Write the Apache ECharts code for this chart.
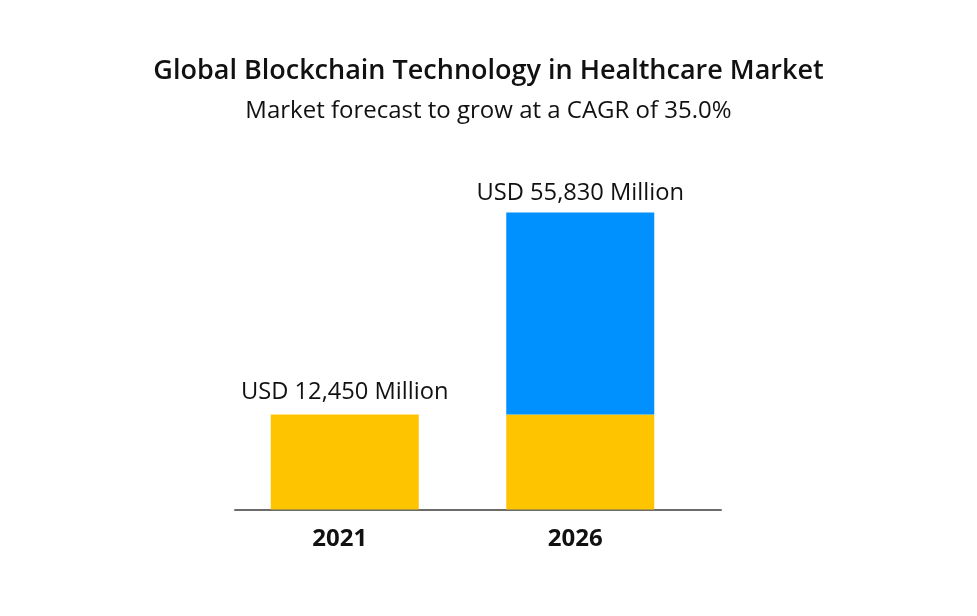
<!DOCTYPE html>
<html>
<head>
<meta charset="utf-8">
<script src="https://cdn.jsdelivr.net/npm/echarts@6/dist/echarts.min.js"></script>
<style>
html,body{margin:0;padding:0;background:#fff;}
#chart{width:977px;height:616px;}
</style>
</head>
<body>
<div id="chart"></div>
<script>
// Data
var years = ['2021', '2026'];
var baseValues = [12450, 12450];      // 2021 market size (base, repeated in 2026 stack)
var growthValues = ['-', 43380];      // growth 2021 -> 2026 (55,830 - 12,450)
var titleText = 'Global Blockchain Technology in Healthcare Market';
var subtitleText = 'Market forecast to grow at a CAGR of 35.0%';

function totalAt(i) {
  var g = growthValues[i] === '-' ? 0 : growthValues[i];
  return baseValues[i] + g;
}
function fmtLabel(i) {
  return 'USD ' + totalAt(i).toLocaleString('en-US') + ' Million';
}

var FONT = '"Open Sans"';
var chart = echarts.init(document.getElementById('chart'), null, {renderer: 'canvas'});
var option = {
  backgroundColor: '#ffffff',
  animation: false,
  title: {
    text: titleText,
    subtext: subtitleText,
    left: 'center',
    top: 53,
    itemGap: 14,
    textStyle: {fontFamily: FONT, fontSize: 27, fontWeight: 600, color: '#111111'},
    subtextStyle: {fontFamily: FONT, fontSize: 24, fontWeight: 'normal', color: '#111111'}
  },
  grid: [
    {left: 227, right: 279, top: 134, bottom: 106.5},
    {left: 235, right: 256, top: 134, bottom: 106.5}
  ],
  xAxis: [
    {
      type: 'category', gridIndex: 0, data: years,
      axisLine: {show: false}, axisTick: {show: false},
      axisLabel: {fontFamily: FONT, fontSize: 24, fontWeight: 'bold', color: '#111111', margin: 18, padding: [0, 10, 0, 0]}
    },
    {
      type: 'category', gridIndex: 1, data: years,
      axisLine: {show: true, lineStyle: {color: '#6b6b6b', width: 2}},
      axisTick: {show: false}, axisLabel: {show: false}
    }
  ],
  yAxis: [
    {type: 'log', gridIndex: 0, min: 6153, max: 100000, startValue: 6153, show: false, splitLine: {show: false}},
    {type: 'value', gridIndex: 1, show: false, splitLine: {show: false}}
  ],
  series: [
    {
      name: 'Base', type: 'bar', stack: 'total', xAxisIndex: 0, yAxisIndex: 0,
      data: baseValues, barWidth: 148, clip: true,
      itemStyle: {color: '#FFC400'},
      label: {
        show: true, position: 'top', distance: 10,
        fontFamily: FONT, fontSize: 23.7, color: '#111111',
        formatter: function (p) { return p.dataIndex === 0 ? fmtLabel(0) : ''; }
      }
    },
    {
      name: 'Growth', type: 'bar', stack: 'total', xAxisIndex: 0, yAxisIndex: 0,
      data: growthValues, barWidth: 148, clip: true,
      itemStyle: {color: '#0091FF'},
      label: {
        show: true, position: 'top', distance: 7,
        fontFamily: FONT, fontSize: 23.7, color: '#111111',
        formatter: function (p) { return fmtLabel(p.dataIndex); }
      }
    }
  ]
};
chart.setOption(option);
</script>
</body>
</html>
